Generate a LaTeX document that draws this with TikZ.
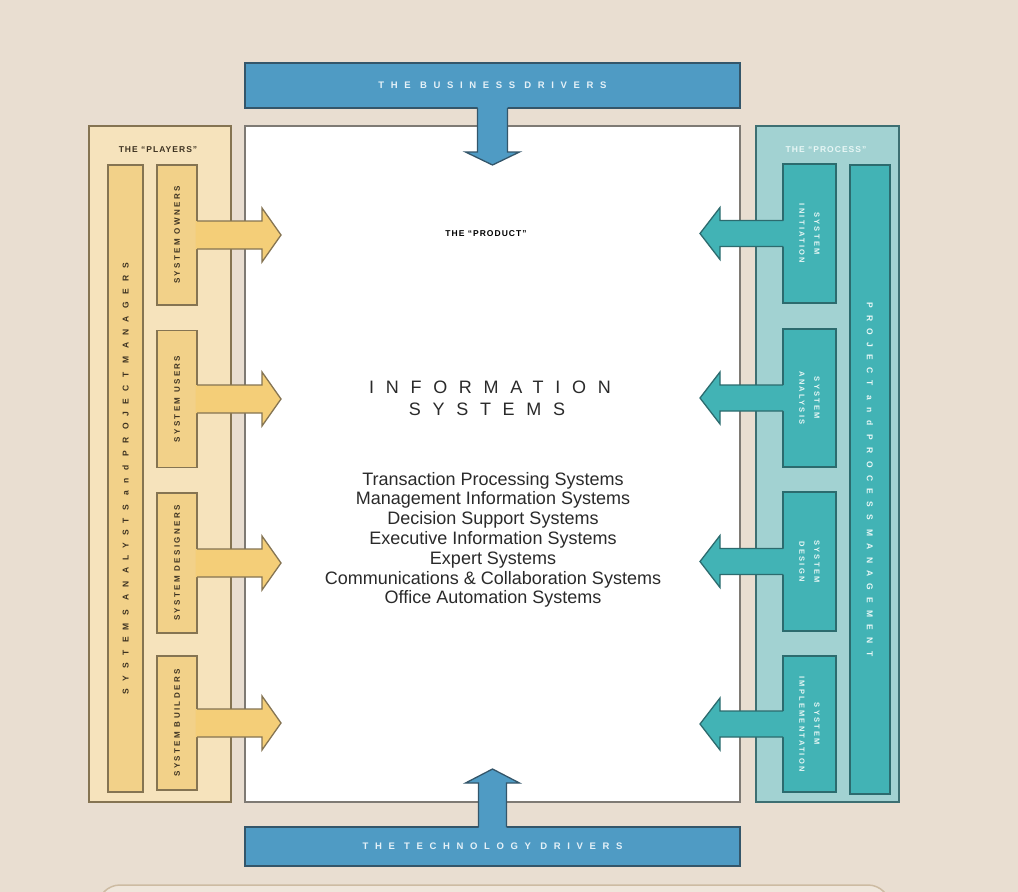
\documentclass[tikz,border=0pt]{standalone}
\usepackage{fontspec}
\setmainfont{Liberation Sans}
\newfontfamily\trackfont[LetterSpace=85]{Liberation Sans}
\newfontfamily\drivefont[LetterSpace=70]{Liberation Sans}
\newfontfamily\labelfont[LetterSpace=30]{Liberation Sans}
\newfontfamily\headfont[LetterSpace=65]{Liberation Sans}
\newfontfamily\tagfont[LetterSpace=12]{Liberation Sans}
\usetikzlibrary{calc}

\definecolor{paper}{HTML}{E9DED1}
\definecolor{card}{HTML}{EFE6DB}
\definecolor{cardline}{HTML}{CDBBA2}
\definecolor{playfill}{HTML}{F6E3BC}
\definecolor{playbar}{HTML}{F2D189}
\definecolor{playarrow}{HTML}{F4CE78}
\definecolor{playline}{HTML}{857452}
\definecolor{playtext}{HTML}{3E3322}
\definecolor{procfill}{HTML}{A2D2D2}
\definecolor{procbar}{HTML}{42B3B5}
\definecolor{procline}{HTML}{2C6B6E}
\definecolor{proctext}{HTML}{E8F7F6}
\definecolor{drive}{HTML}{4F9BC4}
\definecolor{driveline}{HTML}{34566A}
\definecolor{drivetext}{HTML}{E4F1F8}
\definecolor{prodline}{HTML}{7E7A74}
\definecolor{ink}{HTML}{2A2A2A}

% arrow from a player box towards the product (merged with the box)
\newcommand\playerarrow[1]{%
  \fill[playarrow] ($(#1.east)+(-1.5,-14)$) -- ++(66.5,0) -- ++(0,-13) -- ++(19,27)
    -- ++(-19,27) -- ++(0,-13) -- ++(-66.5,0) -- cycle;
  \draw[arrowline, draw=playline] ($(#1.east)+(0,-14)$) -- ++(65,0) -- ++(0,-13) -- ++(19,27)
    -- ++(-19,27) -- ++(0,-13) -- ++(-65,0);}
% arrow from a process box towards the product
\newcommand\processarrow[1]{%
  \fill[procbar] ($(#1.west)+(1.5,-13)$) -- ++(-64.5,0) -- ++(0,-13) -- ++(-20,26)
    -- ++(20,26) -- ++(0,-13) -- ++(64.5,0) -- cycle;
  \draw[arrowline, draw=procline] ($(#1.west)+(0,-13)$) -- ++(-63,0) -- ++(0,-13) -- ++(-20,26)
    -- ++(20,26) -- ++(0,-13) -- ++(63,0);}

\begin{document}
\begin{tikzpicture}[x=1pt,y=-1pt,
  box/.style={rectangle, inner sep=0pt, outer sep=0pt, line width=1.3pt},
  arrowline/.style={line width=1.3pt, line join=miter},
  playpanel/.style={box, draw=playline, fill=playfill},
  playbox/.style={box, draw=playline, fill=playbar},
  procpanel/.style={box, draw=procline!80!gray, fill=procfill},
  procbox/.style={box, draw=procline, fill=procbar},
  drivebox/.style={box, draw=driveline, fill=drive},
  prodbox/.style={box, draw=prodline, fill=white},
  bartext/.style={inner sep=0pt, font=\trackfont\bfseries\fontsize{8.5}{10}\selectfont},
  drivetag/.style={inner sep=0pt, text=drivetext, font=\drivefont\bfseries\fontsize{9.5}{11}\selectfont},
  playlabel/.style={inner sep=0pt, rotate=90, text=playtext, font=\labelfont\bfseries\fontsize{8}{10}\selectfont},
  proclabel/.style={inner sep=0pt, rotate=-90, align=center, text=proctext, font=\labelfont\bfseries\fontsize{7.5}{15}\selectfont},
  title/.style={inner sep=0pt, anchor=base, font=\tagfont\bfseries\fontsize{8.5}{10}\selectfont},
  listline/.style={inner sep=0pt, anchor=base, text=ink, font=\fontsize{18}{20}\selectfont},
  headline/.style={inner sep=0pt, anchor=base, text=ink, font=\headfont\fontsize{18}{20}\selectfont}]

\useasboundingbox (0,0) rectangle (1018,892);
\fill[paper] (0,0) rectangle (1018,892);

% card below the diagram, cut by the page edge
\begin{scope}
  \clip (0,0) rectangle (1018,892);
  \node[box, draw=cardline, fill=card, line width=1.5pt, rounded corners=22pt,
        minimum width=792, minimum height=80] (footer) at (494,925) {};
\end{scope}

% panels
\node[playpanel, minimum width=142, minimum height=676] (players) at (160,464) {};
\node[prodbox, minimum width=495, minimum height=676] (product) at (492.5,464) {};
\node[procpanel, minimum width=143, minimum height=676] (process) at (827.5,464) {};
\node[drivebox, minimum width=495, minimum height=45] (business) at (492.5,85.5) {};
\node[drivebox, minimum width=495, minimum height=39] (technology) at (492.5,846.5) {};

% players
\node[playbox, minimum width=35, minimum height=627] (analysts) at (125.5,478.5) {};
\node[playbox, minimum width=40, minimum height=140] (owners) at (177,235) {};
\node[playbox, minimum width=40, minimum height=137] (users) at (177,399) {};
\node[playbox, minimum width=40, minimum height=140] (designers) at (177,563) {};
\node[playbox, minimum width=40, minimum height=134] (builders) at (177,723) {};

% process
\node[procbox, minimum width=40, minimum height=629] (management) at (870,479.5) {};
\node[procbox, minimum width=53, minimum height=139] (initiation) at (809.5,233.5) {};
\node[procbox, minimum width=53, minimum height=138] (analysis) at (809.5,398) {};
\node[procbox, minimum width=53, minimum height=139] (design) at (809.5,561.5) {};
\node[procbox, minimum width=53, minimum height=136] (implementation) at (809.5,724) {};

% arrows into the product
\playerarrow{owners}
\playerarrow{users}
\playerarrow{designers}
\playerarrow{builders}
\processarrow{initiation}
\processarrow{analysis}
\processarrow{design}
\processarrow{implementation}

\fill[drive] ($(business.south)+(-15,-1.5)$) -- ++(0,45.5) -- ++(-12,0) -- ++(27,13)
  -- ++(27,-13) -- ++(-12,0) -- ++(0,-45.5) -- cycle;
\draw[arrowline, draw=driveline] ($(business.south)+(-15,0)$) -- ++(0,44) -- ++(-12,0) -- ++(27,13)
  -- ++(27,-13) -- ++(-12,0) -- ++(0,-44);
\fill[drive] ($(technology.north)+(-14,1.5)$) -- ++(0,-45.5) -- ++(-13,0) -- ++(27,-14)
  -- ++(27,14) -- ++(-13,0) -- ++(0,45.5) -- cycle;
\draw[arrowline, draw=driveline] ($(technology.north)+(-14,0)$) -- ++(0,-44) -- ++(-13,0) -- ++(27,-14)
  -- ++(27,14) -- ++(-13,0) -- ++(0,44);

% texts
\node[drivetag] (businesstext) at (business) {THE BUSINESS DRIVERS};
\node[drivetag] (technologytext) at (technology) {THE TECHNOLOGY DRIVERS};
\node[title, text=playtext] (playerstitle) at (158,152) {THE “PLAYERS”};
\node[title, text=proctext] (processtitle) at (826,152) {THE “PROCESS”};
\node[title, text=black] (producttitle) at (486,236) {THE “PRODUCT”};

\node[bartext, rotate=90, text=playtext] (analyststext) at (analysts) {SYSTEMS ANALYSTS and PROJECT MANAGERS};
\node[bartext, rotate=-90, text=proctext] (managementtext) at (management) {PROJECT and PROCESS MANAGEMENT};

\node[playlabel] (ownerstext) at (owners) {SYSTEM OWNERS};
\node[playlabel] (userstext) at (users) {SYSTEM USERS};
\node[playlabel] (designerstext) at (designers) {SYSTEM DESIGNERS};
\node[playlabel] (builderstext) at (builders) {SYSTEM BUILDERS};

\node[proclabel] (initiationtext) at (initiation) {SYSTEM\\INITIATION};
\node[proclabel] (analysistext) at (analysis) {SYSTEM\\ANALYSIS};
\node[proclabel] (designtext) at (design) {SYSTEM\\DESIGN};
\node[proclabel] (implementationtext) at (implementation) {SYSTEM\\IMPLEMENTATION};

\node[headline] (head1) at (490,393) {INFORMATION};
\node[headline] (head2) at (487,415) {SYSTEMS};

\node[listline] (tps) at (493,485) {Transaction Processing Systems};
\node[listline] (mis) at (493,504.8) {Management Information Systems};
\node[listline] (dss) at (493,524.6) {Decision Support Systems};
\node[listline] (eis) at (493,544.4) {Executive Information Systems};
\node[listline] (es) at (493,564.2) {Expert Systems};
\node[listline] (ccs) at (493,584) {Communications \& Collaboration Systems};
\node[listline] (oas) at (493,603.8) {Office Automation Systems};
\end{tikzpicture}
\end{document}
